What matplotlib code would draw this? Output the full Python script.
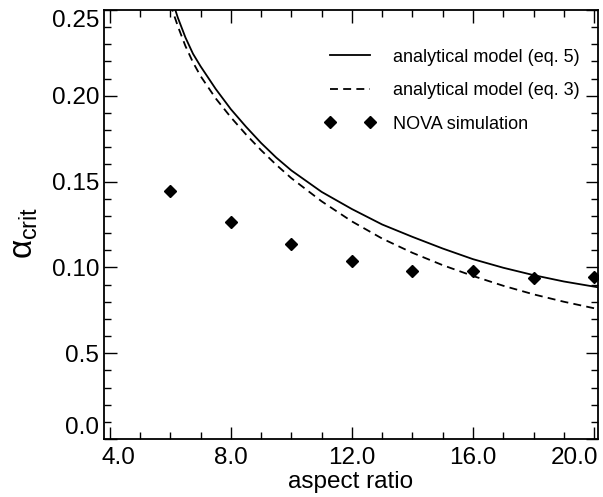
"""critical alpha vs aspect ratio: analytical models and NOVA runs"""
import matplotlib
matplotlib.use('Agg')
import matplotlib.pyplot as plt
import matplotlib.transforms as mtransforms
from matplotlib.ticker import MultipleLocator

plt.rcParams['font.family'] = ['Liberation Sans', 'DejaVu Sans']
plt.rcParams['mathtext.fontset'] = 'custom'
plt.rcParams['mathtext.rm'] = 'Liberation Sans'
plt.rcParams['mathtext.it'] = 'Liberation Sans'

# analytical model (eq. 5)
eq5_x = [6.0, 6.25, 6.5, 6.75, 7.0, 7.5, 8.0, 8.5, 9.0, 9.5, 10.0, 11.0,
         12.0, 13.0, 14.0, 15.0, 16.0, 17.0, 18.0, 19.0, 20.0, 20.2]
eq5_y = [0.259, 0.2455, 0.234, 0.2245, 0.2172, 0.2040, 0.1922, 0.1820,
         0.1725, 0.1640, 0.1565, 0.1440, 0.1340, 0.1250, 0.1178, 0.1110,
         0.1048, 0.0998, 0.0955, 0.0918, 0.0888, 0.0882]

# analytical model (eq. 3)
eq3_x = [6.0, 6.25, 6.5, 6.75, 7.0, 7.5, 8.0, 8.5, 9.0, 9.5, 10.0, 11.0,
         12.0, 13.0, 14.0, 15.0, 16.0, 17.0, 18.0, 19.0, 20.0, 20.2]
eq3_y = [0.2535, 0.2405, 0.2290, 0.2195, 0.2115, 0.1985, 0.1875, 0.1775,
         0.1683, 0.1598, 0.1520, 0.1385, 0.1268, 0.1168, 0.1085, 0.1013,
         0.0950, 0.0893, 0.0843, 0.0800, 0.0762, 0.0755]

# NOVA simulation points
nova_x = [6, 8, 10, 12, 14, 16, 18, 20]
nova_y = [0.1448, 0.1262, 0.1135, 0.1040, 0.0978, 0.0978, 0.0940, 0.0942]

xticks = [4.0, 8.0, 12.0, 16.0, 20.0]
xtick_labels = ['4.0', '8.0', '12.0', '16.0', '20.0']
yticks = [0.0, 0.05, 0.10, 0.15, 0.20, 0.25]
ytick_labels = ['0.0', '0.5', '0.10', '0.15', '0.20', '0.25']

fig = plt.figure(figsize=(6.03, 4.97), dpi=100)
ax = fig.add_axes([104 / 603, 1 - 439 / 497, 494 / 603, 429 / 497])

ax.plot(eq5_x, eq5_y, color='black', lw=1.3, label='analytical model (eq. 5)')
ax.plot(eq3_x, eq3_y, color='black', lw=1.3, ls=(0, (4.4, 2.9)),
        label='analytical model (eq. 3)')
ax.plot(nova_x, nova_y, ls='none', marker='D', ms=6, color='black',
        label='NOVA simulation')

ax.set_xlim(3.81, 20.13)
ax.set_ylim(0.0, 0.25)

ax.set_xticks(xticks)
ax.set_xticklabels(xtick_labels)
ax.set_yticks(yticks)
ax.set_yticklabels(ytick_labels)
ax.xaxis.set_minor_locator(MultipleLocator(1.0))
ax.yaxis.set_minor_locator(MultipleLocator(0.01))

ax.tick_params(which='both', direction='in', top=True, right=True,
               labelsize=17.5, width=1.0)
ax.tick_params(which='major', length=9)
ax.tick_params(which='minor', length=5)
ax.tick_params(axis='x', pad=6)
ax.tick_params(axis='y', pad=3.5)
for s in ax.spines.values():
  s.set_linewidth(1.3)

# shift the end labels inside like the original
xl = ax.get_xticklabels()
xl[0].set_transform(xl[0].get_transform() +
                    mtransforms.ScaledTranslation(9 / 100, 0, fig.dpi_scale_trans))
xl[-1].set_transform(xl[-1].get_transform() +
                     mtransforms.ScaledTranslation(-20 / 100, 0, fig.dpi_scale_trans))
yl = ax.get_yticklabels()
yl[0].set_va('bottom')
yl[-1].set_va('top')

ax.set_xlabel('aspect ratio', fontsize=17.5, labelpad=1.5)
ax.set_ylabel(r'$\alpha_{\rm crit}$', fontsize=24)
ax.yaxis.set_label_coords(-0.1295, 0.48)

leg = ax.legend(loc='upper right', bbox_to_anchor=(0.978, 0.927),
                borderaxespad=0, frameon=False, fontsize=13, numpoints=2,
                handlelength=2.8, labelspacing=0.92, handletextpad=1.0)

plt.savefig('out.png', dpi=100)
